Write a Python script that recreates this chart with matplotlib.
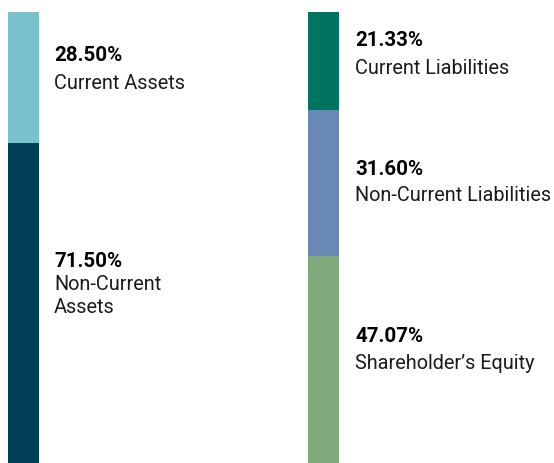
import numpy as np
import matplotlib
matplotlib.use("Agg")
import matplotlib.pyplot as plt

# composition of the balance sheet (percent)
asset_labels = ["Current Assets", "Non-Current\nAssets"]
asset_values = [28.50, 71.50]
asset_colors = ["#78c3cb", "#023f59"]

liab_labels = ["Current Liabilities", "Non-Current Liabilities", "Shareholder\u2019s Equity"]
liab_values = [21.33, 31.60, 47.07]
liab_colors = ["#007461", "#6989b5", "#80a97b"]

W, H = 554, 464
fig = plt.figure(figsize=(W / 100, H / 100), dpi=100)

# bar axes: top of bars at y=13 px, 100% reaches a little below the image
top_px, full_px = 13, 461
ax = fig.add_axes([0, 1 - (top_px + full_px) / H, 1, full_px / H])
ax.set_xlim(0, W)
ax.set_ylim(100, 0)
ax.axis("off")

bar_x = [23.5, 323.5]
bar_w = 31
for x, vals, cols in [(bar_x[0], asset_values, asset_colors),
                      (bar_x[1], liab_values, liab_colors)]:
    bottoms = np.concatenate([[0], np.cumsum(vals)[:-1]])
    ax.bar([x] * len(vals), vals, width=bar_w, bottom=bottoms, color=cols,
           linewidth=0)

# text overlay in pixel coordinates
tx = fig.add_axes([0, 0, 1, 1])
tx.set_xlim(0, W)
tx.set_ylim(H, 0)
tx.axis("off")

txt_col = "#1b1b1b"
# (x, pct y center, name block y center)
asset_pos = [(54, 55.5, 83.5), (54, 261.5, 296)]
liab_pos = [(355, 41, 69), (355, 169.5, 196), (355, 337, 364)]

for labels, vals, pos in [(asset_labels, asset_values, asset_pos),
                          (liab_labels, liab_values, liab_pos)]:
    for lab, v, (x, yp, yn) in zip(labels, vals, pos):
        tx.text(x, yp, f"{v:.2f}%", fontfamily="Roboto", fontweight="bold",
                fontsize=14.8, color="black", va="center", ha="left")
        tx.text(x, yn, lab, fontfamily="Roboto", fontsize=14.3, color=txt_col,
                va="center", ha="left", linespacing=1.25)

fig.savefig("out.png", dpi=100)
